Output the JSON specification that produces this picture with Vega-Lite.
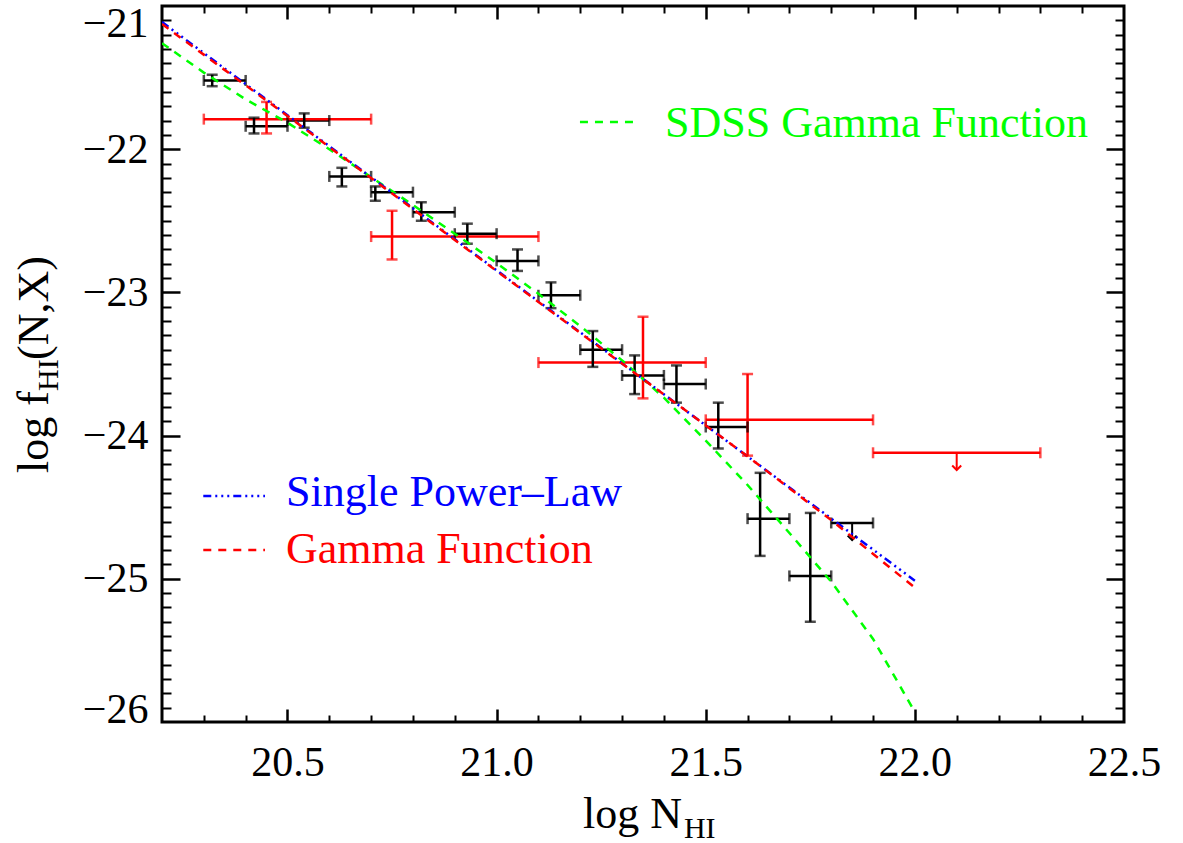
{
"$schema":"https://vega.github.io/schema/vega-lite/v6.json",
"width":962,"height":716,
"autosize":{"type":"none"},
"padding":{"left":162,"top":6,"right":59,"bottom":121},
"background":"white",
"config":{"font":"Liberation Serif","view":{"stroke":"black","strokeWidth":3},"text":{"font":"Liberation Serif"},"axis":{"labelFont":"Liberation Serif","titleFont":"Liberation Serif"}},
"data":{"values":[{}]},
"datasets":{
"bars":[
{"x":20.32,"xmin":20.30,"xmax":20.40,"y":-21.52,"ymin":-21.56,"ymax":-21.48,"sample":"main"},
{"x":20.42,"xmin":20.40,"xmax":20.50,"y":-21.84,"ymin":-21.89,"ymax":-21.78,"sample":"main"},
{"x":20.54,"xmin":20.50,"xmax":20.60,"y":-21.80,"ymin":-21.85,"ymax":-21.75,"sample":"main"},
{"x":20.63,"xmin":20.60,"xmax":20.70,"y":-22.19,"ymin":-22.26,"ymax":-22.13,"sample":"main"},
{"x":20.71,"xmin":20.70,"xmax":20.80,"y":-22.30,"ymin":-22.36,"ymax":-22.26,"sample":"main"},
{"x":20.82,"xmin":20.80,"xmax":20.90,"y":-22.44,"ymin":-22.50,"ymax":-22.37,"sample":"main"},
{"x":20.93,"xmin":20.90,"xmax":21.00,"y":-22.59,"ymin":-22.66,"ymax":-22.52,"sample":"main"},
{"x":21.05,"xmin":21.00,"xmax":21.10,"y":-22.78,"ymin":-22.85,"ymax":-22.70,"sample":"main"},
{"x":21.13,"xmin":21.10,"xmax":21.20,"y":-23.02,"ymin":-23.11,"ymax":-22.93,"sample":"main"},
{"x":21.23,"xmin":21.20,"xmax":21.30,"y":-23.40,"ymin":-23.52,"ymax":-23.27,"sample":"main"},
{"x":21.33,"xmin":21.30,"xmax":21.40,"y":-23.58,"ymin":-23.71,"ymax":-23.44,"sample":"main"},
{"x":21.43,"xmin":21.40,"xmax":21.50,"y":-23.64,"ymin":-23.77,"ymax":-23.51,"sample":"main"},
{"x":21.53,"xmin":21.50,"xmax":21.60,"y":-23.94,"ymin":-24.09,"ymax":-23.77,"sample":"main"},
{"x":21.63,"xmin":21.60,"xmax":21.70,"y":-24.58,"ymin":-24.84,"ymax":-24.26,"sample":"main"},
{"x":21.75,"xmin":21.70,"xmax":21.80,"y":-24.98,"ymin":-25.30,"ymax":-24.54,"sample":"main"},
{"x":20.45,"xmin":20.30,"xmax":20.70,"y":-21.79,"ymin":-21.89,"ymax":-21.67,"sample":"comparison"},
{"x":20.75,"xmin":20.70,"xmax":21.10,"y":-22.61,"ymin":-22.77,"ymax":-22.43,"sample":"comparison"},
{"x":21.35,"xmin":21.10,"xmax":21.50,"y":-23.49,"ymin":-23.74,"ymax":-23.17,"sample":"comparison"},
{"x":21.60,"xmin":21.50,"xmax":21.90,"y":-23.89,"ymin":-24.14,"ymax":-23.57,"sample":"comparison"}
],
"limits":[
{"x":21.85,"xmin":21.80,"xmax":21.90,"y":-24.61,"ytip":-24.73,"sample":"main"},
{"x":22.10,"xmin":21.90,"xmax":22.30,"y":-24.12,"ytip":-24.24,"sample":"comparison"}
],
"curves":[
{"series":"SDSS Gamma Function","x":20.2,"y":-21.26},
{"series":"SDSS Gamma Function","x":20.3,"y":-21.465},
{"series":"SDSS Gamma Function","x":20.4,"y":-21.652},
{"series":"SDSS Gamma Function","x":20.5,"y":-21.815},
{"series":"SDSS Gamma Function","x":20.6,"y":-22.0},
{"series":"SDSS Gamma Function","x":20.7,"y":-22.195},
{"series":"SDSS Gamma Function","x":20.8,"y":-22.39},
{"series":"SDSS Gamma Function","x":20.9,"y":-22.59},
{"series":"SDSS Gamma Function","x":21.0,"y":-22.795},
{"series":"SDSS Gamma Function","x":21.1,"y":-23.01},
{"series":"SDSS Gamma Function","x":21.2,"y":-23.235},
{"series":"SDSS Gamma Function","x":21.3,"y":-23.475},
{"series":"SDSS Gamma Function","x":21.4,"y":-23.735},
{"series":"SDSS Gamma Function","x":21.5,"y":-24.035},
{"series":"SDSS Gamma Function","x":21.6,"y":-24.345},
{"series":"SDSS Gamma Function","x":21.7,"y":-24.68},
{"series":"SDSS Gamma Function","x":21.8,"y":-25.02},
{"series":"SDSS Gamma Function","x":21.9,"y":-25.42},
{"series":"SDSS Gamma Function","x":22.0,"y":-25.93},
{"series":"Single Power-Law","x":20.2,"y":-21.112},
{"series":"Single Power-Law","x":20.6,"y":-21.979},
{"series":"Single Power-Law","x":21.0,"y":-22.846},
{"series":"Single Power-Law","x":21.4,"y":-23.712},
{"series":"Single Power-Law","x":21.8,"y":-24.579},
{"series":"Single Power-Law","x":22.0,"y":-25.013},
{"series":"Gamma Function","x":20.2,"y":-21.126},
{"series":"Gamma Function","x":20.5,"y":-21.768},
{"series":"Gamma Function","x":20.8,"y":-22.418},
{"series":"Gamma Function","x":21.0,"y":-22.85},
{"series":"Gamma Function","x":21.2,"y":-23.283},
{"series":"Gamma Function","x":21.4,"y":-23.713},
{"series":"Gamma Function","x":21.6,"y":-24.145},
{"series":"Gamma Function","x":21.8,"y":-24.59},
{"series":"Gamma Function","x":22.0,"y":-25.062}
]
},
"resolve":{"scale":{"color":"independent"},"axis":{"x":"independent","y":"independent"}},
"layer":[
{"data":{"name":"bars"},"mark":{"type":"rule","strokeWidth":2.5},
 "encoding":{
  "x":{"field":"xmin","type":"quantitative","scale":{"domain":[20.2,22.5],"nice":false,"zero":false},
       "axis":{"orient":"bottom","values":[20.5,21,21.5,22],"labels":false,"domain":false,"grid":false,"tickSize":-13,"tickWidth":2.5,"tickColor":"black","title":null}},
  "x2":{"field":"xmax"},
  "y":{"field":"y","type":"quantitative","scale":{"domain":[-26,-21],"nice":false,"zero":false},
       "axis":{"orient":"left","values":[-25,-24,-23,-22],"labels":false,"domain":false,"grid":false,"tickSize":-18,"tickWidth":2.5,"tickColor":"black","title":null}},
  "color":{"field":"sample","type":"nominal","scale":{"domain":["main","comparison"],"range":["#000000","#ff0000"]},"legend":null}}},
{"data":{"name":"bars"},"mark":{"type":"rule","strokeWidth":2.5},
 "encoding":{
  "x":{"field":"x","type":"quantitative","scale":{"domain":[20.2,22.5],"nice":false,"zero":false},
       "axis":{"orient":"top","values":[20.5,21,21.5,22],"labels":false,"domain":false,"grid":false,"tickSize":-13,"tickWidth":2.5,"tickColor":"black","title":null}},
  "y":{"field":"ymin","type":"quantitative","scale":{"domain":[-26,-21],"nice":false,"zero":false},
       "axis":{"orient":"right","values":[-25,-24,-23,-22],"labels":false,"domain":false,"grid":false,"tickSize":-18,"tickWidth":2.5,"tickColor":"black","title":null}},
  "y2":{"field":"ymax"},
  "color":{"field":"sample","type":"nominal","scale":{"domain":["main","comparison"],"range":["#000000","#ff0000"]},"legend":null}}},
{"data":{"name":"bars"},"mark":{"type":"tick","orient":"vertical","size":11,"thickness":2.5},
 "encoding":{
  "x":{"field":"xmin","type":"quantitative","scale":{"domain":[20.2,22.5],"nice":false,"zero":false},
       "axis":{"orient":"bottom","values":[20.3,20.4,20.6,20.7,20.8,20.9,21.1,21.2,21.3,21.4,21.6,21.7,21.8,21.9,22.1,22.2,22.3,22.4],"labels":false,"domain":false,"grid":false,"tickSize":-7,"tickWidth":2,"tickColor":"black","title":null}},
  "y":{"field":"y","type":"quantitative","scale":{"domain":[-26,-21],"nice":false,"zero":false},
       "axis":{"orient":"left","values":[-25.9,-25.8,-25.7,-25.6,-25.5,-25.4,-25.3,-25.2,-25.1,-24.9,-24.8,-24.7,-24.6,-24.5,-24.4,-24.3,-24.2,-24.1,-23.9,-23.8,-23.7,-23.6,-23.5,-23.4,-23.3,-23.2,-23.1,-22.9,-22.8,-22.7,-22.6,-22.5,-22.4,-22.3,-22.2,-22.1,-21.9,-21.8,-21.7,-21.6,-21.5,-21.4,-21.3,-21.2,-21.1],"labels":false,"domain":false,"grid":false,"tickSize":-9,"tickWidth":2,"tickColor":"black","title":null}},
  "color":{"field":"sample","type":"nominal","scale":{"domain":["main","comparison"],"range":["#000000","#ff0000"]},"legend":null}}},
{"data":{"name":"bars"},"mark":{"type":"tick","orient":"vertical","size":11,"thickness":2.5},
 "encoding":{
  "x":{"field":"xmax","type":"quantitative","scale":{"domain":[20.2,22.5],"nice":false,"zero":false},
       "axis":{"orient":"top","values":[20.3,20.4,20.6,20.7,20.8,20.9,21.1,21.2,21.3,21.4,21.6,21.7,21.8,21.9,22.1,22.2,22.3,22.4],"labels":false,"domain":false,"grid":false,"tickSize":-7,"tickWidth":2,"tickColor":"black","title":null}},
  "y":{"field":"y","type":"quantitative","scale":{"domain":[-26,-21],"nice":false,"zero":false},
       "axis":{"orient":"right","values":[-25.9,-25.8,-25.7,-25.6,-25.5,-25.4,-25.3,-25.2,-25.1,-24.9,-24.8,-24.7,-24.6,-24.5,-24.4,-24.3,-24.2,-24.1,-23.9,-23.8,-23.7,-23.6,-23.5,-23.4,-23.3,-23.2,-23.1,-22.9,-22.8,-22.7,-22.6,-22.5,-22.4,-22.3,-22.2,-22.1,-21.9,-21.8,-21.7,-21.6,-21.5,-21.4,-21.3,-21.2,-21.1],"labels":false,"domain":false,"grid":false,"tickSize":-9,"tickWidth":2,"tickColor":"black","title":null}},
  "color":{"field":"sample","type":"nominal","scale":{"domain":["main","comparison"],"range":["#000000","#ff0000"]},"legend":null}}},
{"data":{"name":"bars"},"mark":{"type":"tick","orient":"horizontal","size":11,"thickness":2.5},
 "encoding":{
  "x":{"field":"x","type":"quantitative","scale":{"domain":[20.2,22.5],"nice":false,"zero":false},"axis":null},
  "y":{"field":"ymin","type":"quantitative","scale":{"domain":[-26,-21],"nice":false,"zero":false},"axis":null},
  "color":{"field":"sample","type":"nominal","scale":{"domain":["main","comparison"],"range":["#000000","#ff0000"]},"legend":null}}},
{"data":{"name":"bars"},"mark":{"type":"tick","orient":"horizontal","size":11,"thickness":2.5},
 "encoding":{
  "x":{"field":"x","type":"quantitative","scale":{"domain":[20.2,22.5],"nice":false,"zero":false},"axis":null},
  "y":{"field":"ymax","type":"quantitative","scale":{"domain":[-26,-21],"nice":false,"zero":false},"axis":null},
  "color":{"field":"sample","type":"nominal","scale":{"domain":["main","comparison"],"range":["#000000","#ff0000"]},"legend":null}}},
{"data":{"name":"limits"},"mark":{"type":"rule","strokeWidth":2.5},
 "encoding":{
  "x":{"field":"xmin","type":"quantitative","scale":{"domain":[20.2,22.5],"nice":false,"zero":false},"axis":null},
  "x2":{"field":"xmax"},
  "y":{"field":"y","type":"quantitative","scale":{"domain":[-26,-21],"nice":false,"zero":false},"axis":null},
  "color":{"field":"sample","type":"nominal","scale":{"domain":["main","comparison"],"range":["#000000","#ff0000"]},"legend":null}}},
{"data":{"name":"limits"},"mark":{"type":"tick","orient":"vertical","size":11,"thickness":2.5},
 "encoding":{
  "x":{"field":"xmin","type":"quantitative","scale":{"domain":[20.2,22.5],"nice":false,"zero":false},"axis":null},
  "y":{"field":"y","type":"quantitative","scale":{"domain":[-26,-21],"nice":false,"zero":false},"axis":null},
  "color":{"field":"sample","type":"nominal","scale":{"domain":["main","comparison"],"range":["#000000","#ff0000"]},"legend":null}}},
{"data":{"name":"limits"},"mark":{"type":"tick","orient":"vertical","size":11,"thickness":2.5},
 "encoding":{
  "x":{"field":"xmax","type":"quantitative","scale":{"domain":[20.2,22.5],"nice":false,"zero":false},"axis":null},
  "y":{"field":"y","type":"quantitative","scale":{"domain":[-26,-21],"nice":false,"zero":false},"axis":null},
  "color":{"field":"sample","type":"nominal","scale":{"domain":["main","comparison"],"range":["#000000","#ff0000"]},"legend":null}}},
{"data":{"name":"limits"},"mark":{"type":"rule","strokeWidth":2},
 "encoding":{
  "x":{"field":"x","type":"quantitative","scale":{"domain":[20.2,22.5],"nice":false,"zero":false},"axis":null},
  "y":{"field":"y","type":"quantitative","scale":{"domain":[-26,-21],"nice":false,"zero":false},"axis":null},
  "y2":{"field":"ytip"},
  "color":{"field":"sample","type":"nominal","scale":{"domain":["main","comparison"],"range":["#000000","#ff0000"]},"legend":null}}},
{"data":{"name":"limits"},"mark":{"type":"point","shape":"M-1,-1L0,0L1,-1","filled":false,"size":81,"strokeWidth":2,"opacity":1},
 "encoding":{
  "x":{"field":"x","type":"quantitative","scale":{"domain":[20.2,22.5],"nice":false,"zero":false},"axis":null},
  "y":{"field":"ytip","type":"quantitative","scale":{"domain":[-26,-21],"nice":false,"zero":false},"axis":null},
  "color":{"field":"sample","type":"nominal","scale":{"domain":["main","comparison"],"range":["#000000","#ff0000"]},"legend":null}}},
{"data":{"name":"curves"},"mark":{"type":"line","clip":true,"strokeWidth":2.5},
 "encoding":{
  "x":{"field":"x","type":"quantitative","scale":{"domain":[20.2,22.5],"nice":false,"zero":false},
       "axis":{"orient":"bottom","values":[20.5,21,21.5,22,22.5],"format":".1f","ticks":false,"domain":false,"grid":false,"labelPadding":20,"labelFlush":false,"labelOverlap":false,"labelFontSize":42,"labelFont":"Liberation Serif","labelColor":"black","title":null}},
  "y":{"field":"y","type":"quantitative","scale":{"domain":[-26,-21],"nice":false,"zero":false},
       "axis":{"orient":"left","values":[-26,-25,-24,-23,-22,-21],"format":"d","ticks":false,"domain":false,"grid":false,"labelPadding":14,"labelFlush":false,"labelOverlap":false,"labelFontSize":42,"labelFont":"Liberation Serif","labelColor":"black","title":null,
               "labelOffset":{"condition":[{"test":"datum.value == -21","value":17},{"test":"datum.value == -26","value":-13}],"value":0}}},
  "color":{"field":"series","type":"nominal","scale":{"domain":["SDSS Gamma Function","Single Power-Law","Gamma Function"],"range":["#00ff00","#0000ff","#ff0000"]},"legend":null},
  "strokeDash":{"field":"series","type":"nominal","scale":{"domain":["SDSS Gamma Function","Single Power-Law","Gamma Function"],"range":[[8,7],[8,4,2,4,2,4,2,4],[8,7]]},"legend":null}}},
{"mark":{"type":"rule","color":"#00ff00","strokeWidth":2.5,"strokeDash":[8,7]},
 "encoding":{"x":{"datum":21.1993,"type":"quantitative","axis":null},"x2":{"datum":21.3427},"y":{"datum":-21.81,"type":"quantitative","axis":null}}},
{"mark":{"type":"rule","color":"#0000ff","strokeWidth":2.5,"strokeDash":[8,4,2,4,2,4,2,4]},
 "encoding":{"x":{"datum":20.2987,"type":"quantitative","axis":null},"x2":{"datum":20.4462},"y":{"datum":-24.4222,"type":"quantitative","axis":null}}},
{"mark":{"type":"rule","color":"#ff0000","strokeWidth":2.5,"strokeDash":[8,7]},
 "encoding":{"x":{"datum":20.2987,"type":"quantitative","axis":null},"x2":{"datum":20.4462},"y":{"datum":-24.799,"type":"quantitative","axis":null}}},
{"mark":{"type":"text","text":"SDSS Gamma Function","align":"left","baseline":"alphabetic","fontSize":44,"font":"Liberation Serif","color":"#00ff00"},
 "encoding":{"x":{"datum":21.4025,"type":"quantitative","axis":null},"y":{"datum":-21.9148,"type":"quantitative","axis":null}}},
{"mark":{"type":"text","text":"Single Power–Law","align":"left","baseline":"alphabetic","fontSize":44,"font":"Liberation Serif","color":"#0000ff"},
 "encoding":{"x":{"datum":20.4964,"type":"quantitative","axis":null},"y":{"datum":-24.4916,"type":"quantitative","axis":null}}},
{"mark":{"type":"text","text":"Gamma Function","align":"left","baseline":"alphabetic","fontSize":44,"font":"Liberation Serif","color":"#ff0000"},
 "encoding":{"x":{"datum":20.4964,"type":"quantitative","axis":null},"y":{"datum":-24.8897,"type":"quantitative","axis":null}}},
{"mark":{"type":"text","text":"log N","align":"left","baseline":"alphabetic","fontSize":44,"font":"Liberation Serif","color":"black"},
 "encoding":{"x":{"datum":21.2065,"type":"quantitative","axis":null},"y":{"datum":-26.7402,"type":"quantitative","axis":null}}},
{"mark":{"type":"text","text":"HI","align":"left","baseline":"alphabetic","fontSize":30,"font":"Liberation Serif","color":"black"},
 "encoding":{"x":{"datum":21.4479,"type":"quantitative","axis":null},"y":{"datum":-26.8101,"type":"quantitative","axis":null}}},
{"mark":{"type":"text","text":"log f","align":"left","baseline":"alphabetic","angle":270,"fontSize":44,"font":"Liberation Serif","color":"black"},
 "encoding":{"x":{"datum":19.9275,"type":"quantitative","axis":null},"y":{"datum":-24.2612,"type":"quantitative","axis":null}}},
{"mark":{"type":"text","text":"HI","align":"left","baseline":"alphabetic","angle":270,"fontSize":30,"font":"Liberation Serif","color":"black"},
 "encoding":{"x":{"datum":19.9514,"type":"quantitative","axis":null},"y":{"datum":-23.6885,"type":"quantitative","axis":null}}},
{"mark":{"type":"text","text":"(N,X)","align":"left","baseline":"alphabetic","angle":270,"fontSize":44,"font":"Liberation Serif","color":"black"},
 "encoding":{"x":{"datum":19.9275,"type":"quantitative","axis":null},"y":{"datum":-23.472,"type":"quantitative","axis":null}}}
]
}
